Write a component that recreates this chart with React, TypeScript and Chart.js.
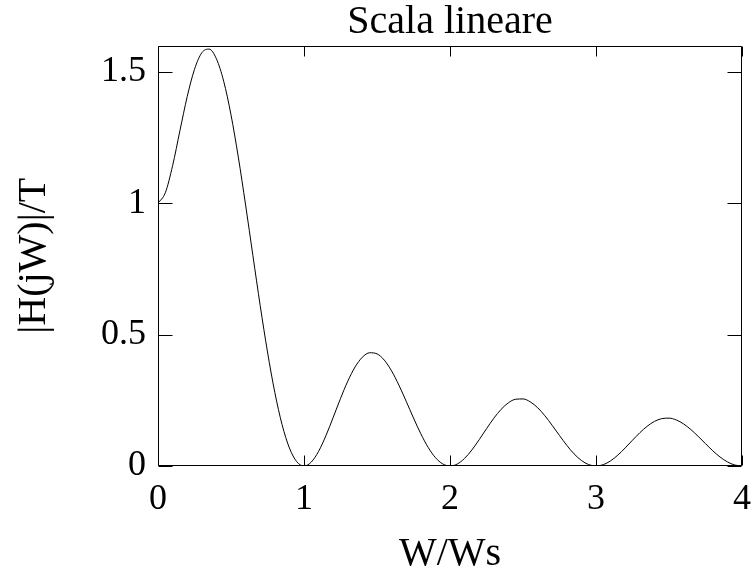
import React, { useEffect, useRef } from "react";
import { Chart, registerables } from "chart.js";

Chart.register(...registerables);

const titleText = "Scala lineare";
const xLabel = "W/Ws";
const yLabel = "|H(jW)|/T";

const xTicks = [0, 1, 2, 3, 4];
const yTicks = [0, 0.5, 1, 1.5];

const xValues = [
  0, 0.05, 0.1, 0.15, 0.2, 0.25, 0.3, 0.35, 0.4, 0.45,
  0.5, 0.55, 0.6, 0.65, 0.7, 0.75, 0.8, 0.85, 0.9, 0.95,
  1, 1.05, 1.1, 1.15, 1.2, 1.25, 1.3, 1.35, 1.4, 1.45,
  1.5, 1.55, 1.6, 1.65, 1.7, 1.75, 1.8, 1.85, 1.9, 1.95,
  2, 2.05, 2.1, 2.15, 2.2, 2.25, 2.3, 2.35, 2.4, 2.45,
  2.5, 2.55, 2.6, 2.65, 2.7, 2.75, 2.8, 2.85, 2.9, 2.95,
  3, 3.05, 3.1, 3.15, 3.2, 3.25, 3.3, 3.35, 3.4, 3.45,
  3.5, 3.55, 3.6, 3.65, 3.7, 3.75, 3.8, 3.85, 3.9, 3.95,
  4,
];

const magnitude = [
  1, 1.0396, 1.1427, 1.2754, 1.4055, 1.5094, 1.5723, 1.5863, 1.5494, 1.4639,
  1.3362, 1.1755, 0.9929, 0.8005, 0.6104, 0.4339, 0.2803, 0.1571, 0.0686, 0.0166,
  0, 0.015, 0.0558, 0.1152, 0.1849, 0.2567, 0.3229, 0.377, 0.414, 0.4309,
  0.4268, 0.4028, 0.3617, 0.3077, 0.2462, 0.1827, 0.1227, 0.0712, 0.0321, 0.008,
  0, 0.0076, 0.029, 0.0612, 0.1002, 0.1418, 0.1816, 0.2156, 0.2405, 0.254,
  0.2552, 0.244, 0.2219, 0.1911, 0.1546, 0.1159, 0.0787, 0.0461, 0.021, 0.0053,
  0, 0.0051, 0.0196, 0.0417, 0.0688, 0.0981, 0.1264, 0.151, 0.1696, 0.1802,
  0.1821, 0.1751, 0.1601, 0.1386, 0.1127, 0.085, 0.0579, 0.0341, 0.0156, 0.0039,
  0,
];

const FONT = "'Liberation Serif', 'Times New Roman', serif";

const framePlugin = {
  id: "frameTicks",
  afterDatasetsDraw(chart: any) {
    const { ctx, chartArea, scales } = chart;
    const xs = scales.x;
    const ys = scales.y;
    const L = Math.round(chartArea.left) + 0.5;
    const R = Math.round(chartArea.right) - 0.5;
    const T = Math.round(chartArea.top) + 0.5;
    const B = Math.round(chartArea.bottom) - 0.5;
    ctx.save();
    ctx.strokeStyle = "#000";
    ctx.lineWidth = 1;
    ctx.beginPath();
    ctx.rect(L, T, R - L, B - T);
    xTicks.forEach((v) => {
      const px = Math.round(xs.getPixelForValue(v)) + 0.5;
      ctx.moveTo(px, B);
      ctx.lineTo(px, B - 10);
      ctx.moveTo(px, T);
      ctx.lineTo(px, T + 10);
    });
    yTicks.forEach((v) => {
      const py = Math.round(ys.getPixelForValue(v)) + 0.5;
      ctx.moveTo(L, py);
      ctx.lineTo(L + 14, py);
      ctx.moveTo(R, py);
      ctx.lineTo(R - 14, py);
    });
    ctx.stroke();
    ctx.restore();
  },
};

export default function App() {
  const ref = useRef<HTMLCanvasElement | null>(null);

  useEffect(() => {
    if (!ref.current) return;
    const points = xValues.map((x, i) => ({ x, y: magnitude[i] }));
    const chart = new Chart(ref.current, {
      type: "line",
      data: {
        datasets: [
          {
            data: points,
            borderColor: "#000",
            borderWidth: 1,
            pointRadius: 0,
            fill: false,
            cubicInterpolationMode: "monotone",
          },
        ],
      },
      options: {
        animation: false,
        responsive: false,
        devicePixelRatio: 1,
        layout: { padding: { left: 0, right: 11, top: 0, bottom: 0 } },
        plugins: {
          legend: { display: false },
          tooltip: { enabled: false },
          title: {
            display: true,
            fullSize: false,
            text: titleText,
            color: "#000",
            font: { family: FONT, size: 40, weight: "normal", lineHeight: 1 },
            padding: { top: 2, bottom: 3.5 },
          },
        },
        scales: {
          x: {
            type: "linear",
            min: 0,
            max: 4,
            afterBuildTicks: (s: any) => {
              s.ticks = xTicks.map((v) => ({ value: v }));
            },
            afterFit: (s: any) => {
              s.height = 109;
              s.paddingLeft = 0;
              s.paddingRight = 0;
            },
            grid: { display: false, drawTicks: false },
            border: { display: false },
            ticks: {
              color: "#000",
              padding: 12,
              maxRotation: 0,
              font: { family: FONT, size: 36 },
              callback: (v: any) => String(v),
            },
            title: {
              display: true,
              text: xLabel,
              color: "#000",
              font: { family: FONT, size: 40, lineHeight: 1 },
              padding: { top: 0, bottom: 0.5 },
            },
          },
          y: {
            type: "linear",
            min: 0,
            max: 1.6,
            afterBuildTicks: (s: any) => {
              s.ticks = yTicks.map((v) => ({ value: v }));
            },
            afterFit: (s: any) => {
              s.width = 158;
              s.paddingTop = 0;
              s.paddingBottom = 0;
            },
            grid: { display: false, drawTicks: false },
            border: { display: false },
            ticks: {
              color: "#000",
              padding: 12,
              font: { family: FONT, size: 36 },
              callback: (v: any) => String(v),
            },
            title: {
              display: true,
              text: yLabel,
              color: "#000",
              font: { family: FONT, size: 40, lineHeight: 1 },
              padding: { top: 14.5, bottom: 0 },
            },
          },
        },
      },
      plugins: [framePlugin],
    });
    return () => chart.destroy();
  }, []);

  return (
    <div style={{ position: "fixed", left: 0, top: 0, width: 753, height: 575, background: "#fff" }}>
      <canvas ref={ref} width={753} height={575} style={{ display: "block" }} />
    </div>
  );
}
